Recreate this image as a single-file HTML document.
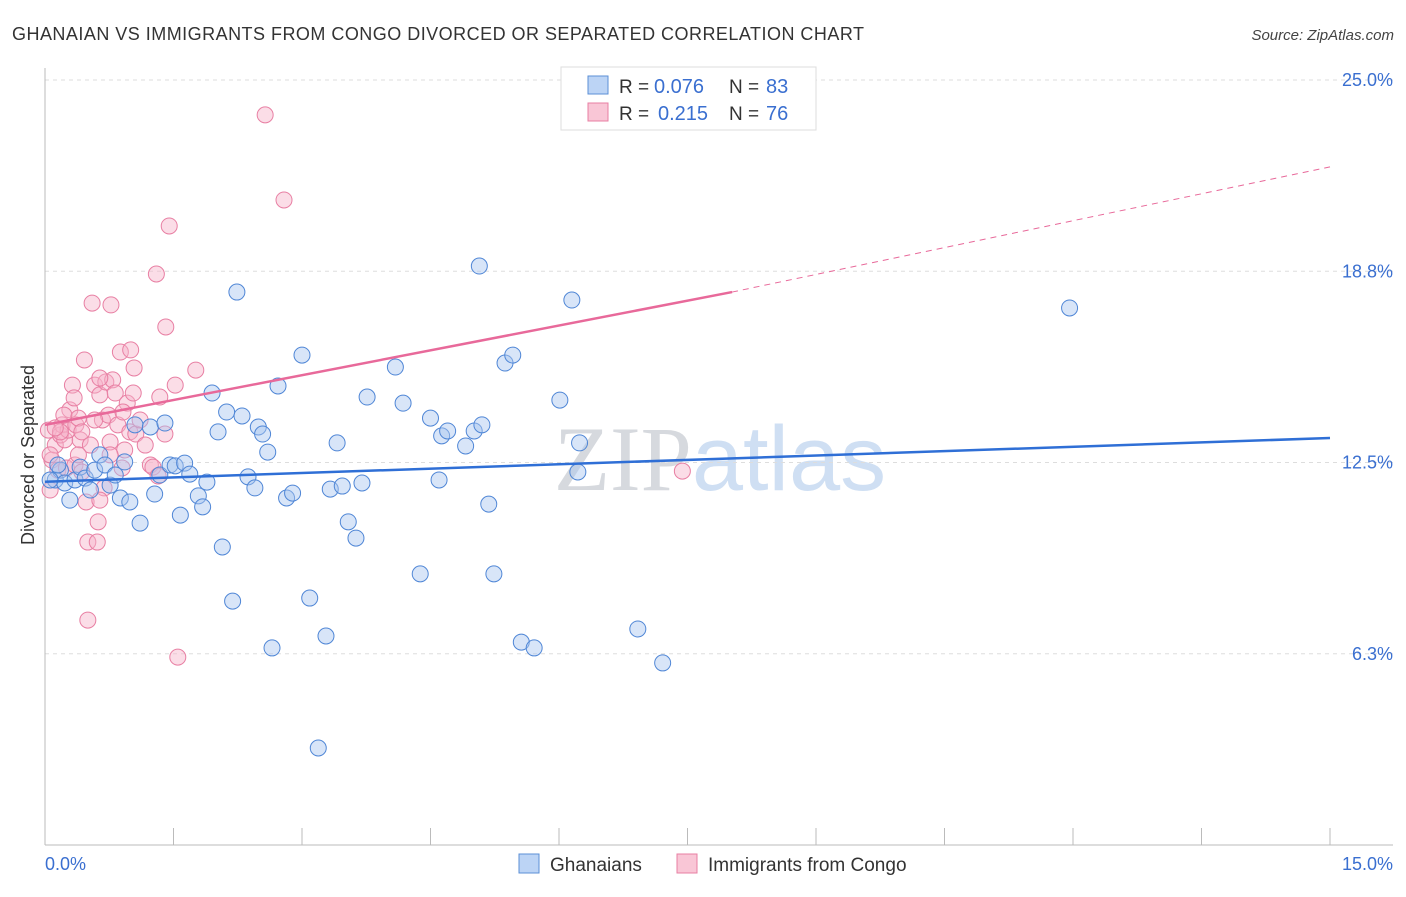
<!DOCTYPE html>
<html><head><meta charset="utf-8"><style>
body{margin:0;background:#fff;font-family:"Liberation Sans",sans-serif}
svg text{font-family:"Liberation Sans",sans-serif}
</style></head><body>
<svg id="chart" width="1406" height="892" xmlns="http://www.w3.org/2000/svg">
<text x="12" y="40" font-size="18" fill="#333" textLength="852">GHANAIAN VS IMMIGRANTS FROM CONGO DIVORCED OR SEPARATED CORRELATION CHART</text>
<text x="1394" y="40" font-size="15" fill="#444" text-anchor="end" font-style="italic">Source: ZipAtlas.com</text>
<text x="720" y="490" font-size="92" text-anchor="middle" fill="#e3e7ee"><tspan font-family="Liberation Serif" fill="#d6d9de">ZIP</tspan><tspan fill="#cfdff3">atlas</tspan></text>
<g id="grid"></g>
<g id="axes"></g>
<g id="marks"></g>
<g>
<rect x="561" y="67" width="255" height="63" fill="#fff" stroke="#ddd"/>
<rect x="588" y="76" width="20" height="18" fill="#bcd4f5" stroke="#5b8fd6"/>
<text x="619" y="93" font-size="19" fill="#333">R =</text>
<text x="654" y="93" font-size="20" fill="#3a6fd0">0.076</text>
<text x="729" y="93" font-size="19" fill="#333">N =</text>
<text x="766" y="93" font-size="20" fill="#3a6fd0">83</text>
<rect x="588" y="103" width="20" height="18" fill="#f9c6d6" stroke="#e87fa3"/>
<text x="619" y="120" font-size="19" fill="#333">R =</text>
<text x="658" y="120" font-size="20" fill="#3a6fd0">0.215</text>
<text x="729" y="120" font-size="19" fill="#333">N =</text>
<text x="766" y="120" font-size="20" fill="#3a6fd0">76</text>
</g>
<g>
<rect x="519" y="854" width="20" height="19" fill="#bcd4f5" stroke="#5b8fd6"/>
<text x="550" y="871" font-size="19" fill="#333">Ghanaians</text>
<rect x="677" y="854" width="20" height="19" fill="#f9c6d6" stroke="#e87fa3"/>
<text x="708" y="871" font-size="19" fill="#333">Immigrants from Congo</text>
</g>
<text transform="translate(34,455) rotate(-90)" font-size="18" fill="#333" text-anchor="middle">Divorced or Separated</text>
</svg>
<script>
const yTicks=[6.25,12.5,18.75,25];
const yTickLabels=["6.3%","12.5%","18.8%","25.0%"];
const xTickCount=10;
const blueX=[0.12,0.18,0.23,0.29,0.35,0.41,0.47,0.53,0.58,0.64,0.70,0.76,0.82,0.88,0.93,0.99,1.05,1.11,1.23,1.28,1.34,1.40,1.46,1.52,1.58,1.63,1.69,1.79,1.84,1.89,1.95,2.02,2.07,2.12,2.19,2.24,2.30,2.37,2.45,2.49,2.54,2.60,2.65,2.72,2.82,2.89,3.00,3.09,3.19,3.28,3.33,3.41,3.47,3.54,3.63,3.70,3.76,4.09,4.18,4.38,4.50,4.60,4.63,4.70,4.91,5.01,5.07,5.10,5.18,5.24,5.37,5.46,5.56,5.71,6.01,6.15,6.22,6.24,6.92,7.21,11.96,0.06,0.15];
const blueY=[11.93,12.25,11.83,11.27,11.93,12.35,11.99,11.60,12.25,12.75,12.42,11.76,12.09,11.34,12.52,11.21,13.73,10.52,13.66,11.47,12.09,13.79,12.42,12.39,10.78,12.48,12.12,11.41,11.05,11.86,14.77,13.50,9.74,14.15,7.97,18.07,14.02,12.03,11.67,13.66,13.43,12.84,6.44,15.00,11.34,11.50,16.01,8.07,3.17,6.83,11.63,13.14,11.73,10.56,10.03,11.83,14.64,15.62,14.44,8.86,13.95,11.93,13.37,13.53,13.04,13.53,18.92,13.73,11.14,8.86,15.75,16.01,6.63,6.44,14.54,17.81,12.19,13.14,7.06,5.95,17.55,11.93,12.42];
const pinkX=[0.04,0.06,0.08,0.12,0.15,0.18,0.20,0.23,0.27,0.29,0.32,0.34,0.36,0.39,0.41,0.43,0.46,0.48,0.50,0.50,0.55,0.58,0.61,0.62,0.64,0.67,0.69,0.71,0.74,0.76,0.77,0.79,0.82,0.85,0.88,0.90,0.93,0.96,0.99,1.00,1.03,1.04,1.06,1.23,1.26,1.30,1.32,1.34,1.40,1.41,1.45,1.52,1.55,1.76,2.57,2.79,7.44,0.06,0.18,0.25,0.35,0.43,0.53,0.64,0.22,0.39,1.11,0.58,0.76,0.12,0.64,0.91,1.17];
const pinkY=[13.56,11.60,12.58,13.07,12.25,13.40,13.73,13.24,13.56,14.22,15.03,14.61,13.73,13.95,13.24,13.50,15.85,11.21,9.90,7.35,17.71,15.03,9.90,10.56,14.71,13.89,11.67,15.13,14.05,13.17,17.65,15.20,14.77,13.73,16.11,12.32,12.91,14.44,13.50,16.18,14.77,15.59,13.43,12.42,12.35,18.66,12.06,14.64,13.43,16.93,20.23,15.03,6.14,15.52,23.86,21.08,12.22,12.75,13.50,12.32,12.42,12.19,13.07,11.27,14.05,12.75,13.89,13.89,12.75,13.63,15.26,14.15,13.07];
const blueTrend=[[0,11.87],[15,13.30]];
const pinkTrendSolid=[[0,13.73],[8.02,18.07]];
const pinkTrendDash=[[8.02,18.07],[15,22.16]];

const NS="http://www.w3.org/2000/svg";
const X0=45,X1=1330,YB=845,PXY=30.6;
const sx=v=>X0+(X1-X0)*v/15;
const sy=v=>YB-v*PXY;
function mk(tag,attrs,parent){const e=document.createElementNS(NS,tag);for(const k in attrs)e.setAttribute(k,attrs[k]);parent.appendChild(e);return e;}
const grid=document.getElementById('grid'),axes=document.getElementById('axes'),marks=document.getElementById('marks');
yTicks.forEach((t,i)=>{
  const l=mk('line',{x1:X0,x2:1393,y1:sy(t),y2:sy(t),stroke:'#ddd','stroke-dasharray':'4,4'},grid);
  
  
  const tx=mk('text',{x:1393,y:sy(t)+6,'font-size':18,fill:'#3a6fd0','text-anchor':'end'},axes);
  tx.textContent=yTickLabels[i];
  
  
});
mk('line',{x1:X0,x2:X0,y1:68,y2:YB,stroke:'#bbb'},axes);
mk('line',{x1:X0,x2:1393,y1:YB,y2:YB,stroke:'#bbb'},axes);
for(let i=1;i<=xTickCount;i++){
  const t=mk('line',{x1:sx(i*1.5),x2:sx(i*1.5),y1:828,y2:YB,stroke:'#bbb'},axes);
  
  
}
const xl=mk('text',{x:45,y:870,'font-size':18,fill:'#3a6fd0'},axes);xl.textContent='0.0%';


const xr=mk('text',{x:1393,y:870,'font-size':18,fill:'#3a6fd0','text-anchor':'end'},axes);xr.textContent='15.0%';


function pts(xs,ys,fill,stroke,name){
  xs.forEach((x,i)=>{
    const c=mk('circle',{cx:sx(x),cy:sy(ys[i]),r:8,fill:fill,'fill-opacity':0.45,stroke:stroke,'stroke-width':1},marks);
    
    
  });
}
pts(pinkX,pinkY,'#f7b3c9','#e87fa3','congo-point');
pts(blueX,blueY,'#a9c6f0','#4f86d6','ghanaian-point');
function line(p,stroke,w,dash,name){
  const l=mk('line',{x1:sx(p[0][0]),y1:sy(p[0][1]),x2:sx(p[1][0]),y2:sy(p[1][1]),stroke:stroke,'stroke-width':w},marks);
  if(dash)l.setAttribute('stroke-dasharray',dash);
  
  
}
line(blueTrend,'#2f6fd6',2.5,null,'ghanaian-trendline');
line(pinkTrendSolid,'#e8699a',2.5,null,'congo-trendline');
line(pinkTrendDash,'#e8699a',1,'6,5','congo-trendline-extension');
</script>
</body></html>
